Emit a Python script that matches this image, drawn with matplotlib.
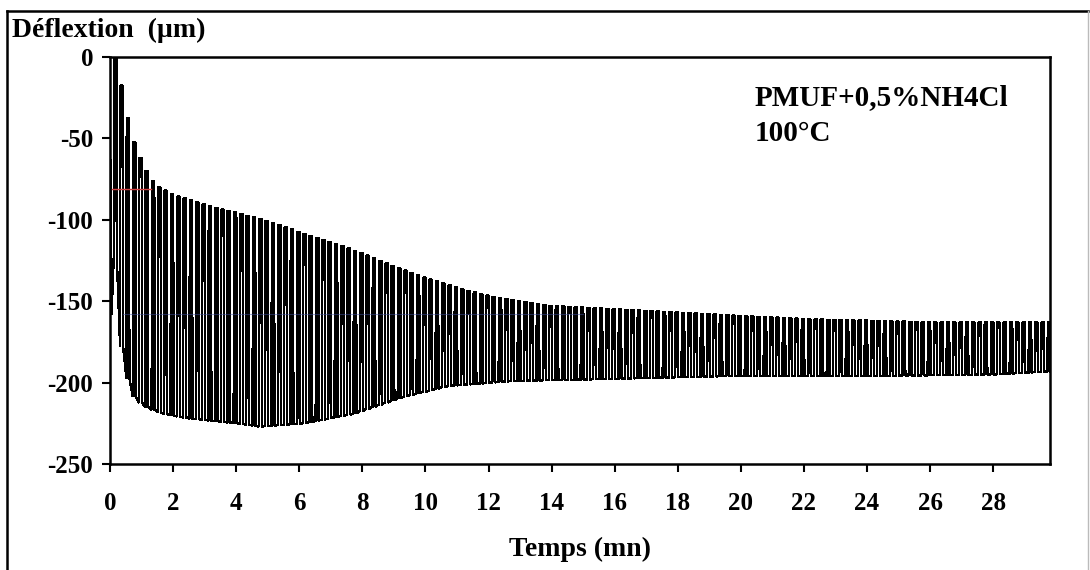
import numpy as np
import matplotlib.pyplot as plt
from matplotlib.lines import Line2D

# ---- values (µm vs minutes) ----
t_upper = [0.15, 0.45, 0.65, 0.87, 1.06, 1.25, 1.42, 2, 3, 4, 5, 6, 7, 8, 9,
           10, 11, 12, 13, 14, 16, 18, 20, 22, 24, 26, 28, 29.8]
upper = [0, -31, -49, -60, -68, -74, -79, -85, -91, -96, -101, -108, -114,
         -121, -129, -136, -142, -147, -150, -153, -155, -157, -159, -161,
         -162, -163, -163, -163]
t_lower = [0.05, 0.16, 0.38, 0.54, 0.7, 1.0, 1.6, 2.5, 4.0, 4.7, 6.1, 7.7,
           9.2, 10.7, 12.7, 15.2, 19.5, 24, 28, 29.8]
lower = [-60, -158, -185, -199, -208, -214, -219, -222, -225, -227, -225,
         -219, -209, -202, -199, -198, -196, -196, -195, -193]
period = 0.2  # mn, one oscillation

x_ticks = list(range(0, 30, 2))
y_ticks = [0, -50, -100, -150, -200, -250]
sample = "PMUF+0,5%NH4Cl"
temp = "100°C"

plt.rcParams['font.family'] = ['Liberation Serif', 'DejaVu Serif']
plt.rcParams['font.weight'] = 'bold'

fig = plt.figure(figsize=(10.9, 5.7), dpi=100)
ax = fig.add_axes([110/1090, 1 - 464/570, 940/1090, 407/570])

# oscillation drawn as pulses between the two envelopes
starts = np.arange(0.12, 29.8, period)
hi = np.interp(starts, t_upper, upper)
lo = np.interp(starts, t_lower, lower)
xs, ys = [0.0, 0.05], [-40.0, -158.0]
for s, h, l in zip(starts, hi, lo):
    xs += [s, s + 0.05*period, s + 0.42*period, s + 0.47*period]
    ys += [l, h, h, l]
ax.plot(xs, ys, color='black', lw=1.0, solid_joinstyle='miter',
        antialiased=False)

# scanner artefacts: small coloured lines
ax.plot([0, 1.3], [-81, -81], color='#d04040', lw=1)
ax.plot([0.4, 15], [-158, -158], color='#4050a0', lw=0.8, alpha=0.5)

ax.set_xlim(0, 29.8)
ax.set_ylim(-250, 0)
ax.set_xticks(x_ticks)
ax.set_yticks(y_ticks)
ax.set_xticklabels([str(v) for v in x_ticks], fontsize=18, fontweight='bold')
ax.set_yticklabels([str(v) for v in y_ticks], fontsize=18, fontweight='bold')
ax.tick_params(axis='x', direction='out', length=6, width=1.5, pad=14)
ax.tick_params(axis='y', direction='out', length=6, width=1.5, pad=6)
for sp in ax.spines.values():
    sp.set_linewidth(1.8)

ax.set_xlabel("Temps (mn)", fontsize=20, fontweight='bold', labelpad=16)
fig.text(12/1090, 1 - 30/570, "Déflextion  (µm)", fontsize=20,
         fontweight='bold', va='center')
fig.text(755/1090, 1 - 98/570, sample, fontsize=21, fontweight='bold',
         va='center')
fig.text(755/1090, 1 - 133/570, temp, fontsize=21, fontweight='bold',
         va='center')

# outer frame of the scanned figure
fig.add_artist(Line2D([7/1090, 1088/1090], [1 - 11/570, 1 - 11/570],
                      color='black', lw=1.8))
fig.add_artist(Line2D([7/1090, 7/1090], [1 - 11/570, 0],
                      color='black', lw=1.8))
fig.add_artist(Line2D([1088/1090, 1088/1090], [1 - 11/570, 0],
                      color='#bbbbbb', lw=1))

fig.savefig("out.png", dpi=100)
